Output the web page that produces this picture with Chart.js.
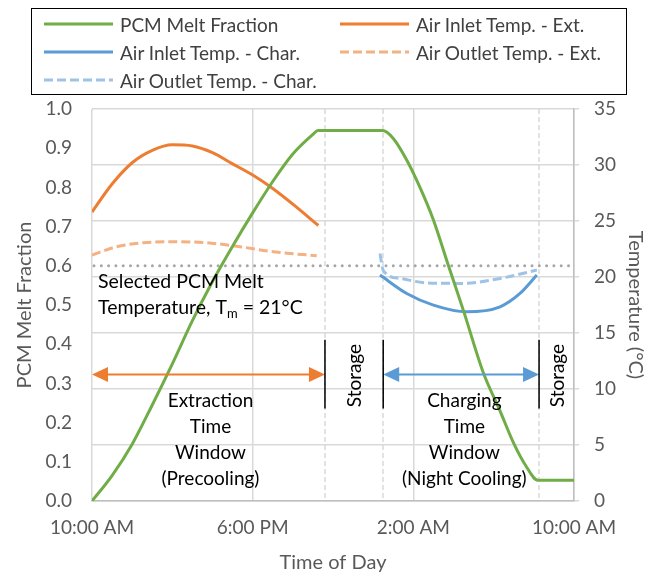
<!DOCTYPE html>
<html>
<head>
<meta charset="utf-8">
<script src="https://cdn.jsdelivr.net/npm/chart.js@4.4.1/dist/chart.umd.min.js"></script>
<style>
  body { margin: 0; background: #fff; }
  #wrap { position: relative; width: 660px; height: 575px; }
  #legend {
    position: absolute; left: 31px; top: 8px; width: 596px; height: 87px;
    border: 1.5px solid #000; box-sizing: border-box;
    font-family: Lato, sans-serif; font-size: 19px; color: #404040;
  }
  .item { position: absolute; display: flex; align-items: center; white-space: nowrap; height: 24px; }
  .item svg { margin-right: 7px; }
</style>
</head>
<body>
<div id="wrap">
  <canvas id="meltChart" width="660" height="575"></canvas>
  <div id="legend"></div>
</div>
<script>
// time axis runs in hours after 10:00 AM
const timeLabels = ['10:00 AM', '6:00 PM', '2:00 AM', '10:00 AM'];

const meltHours = [0, 1, 2, 3, 4, 5, 6, 7, 8, 9, 10, 11, 11.25, 14.46, 15, 15.67, 16.33, 17, 17.75, 18.5, 19.5, 20.3, 21, 21.6, 22.2, 24];
const meltFraction = [0, 0.065, 0.145, 0.245, 0.35, 0.46, 0.56, 0.65, 0.735, 0.815, 0.885, 0.935, 0.945, 0.945, 0.925, 0.87, 0.8, 0.717, 0.6, 0.485, 0.325, 0.232, 0.147, 0.09, 0.053, 0.053];

const extInletHours = [0, 1, 2, 3, 4, 5, 6, 7, 8, 9, 10, 11.27];
const extInletTemp = [25.8, 28.3, 30.2, 31.3, 31.8, 31.7, 31.1, 30.1, 29.1, 27.9, 26.5, 24.6];

const extOutletHours = [0, 1.23, 2.56, 4.05, 5.7, 7.37, 9.03, 11.19];
const extOutletTemp = [21.96, 22.7, 23.06, 23.15, 23.06, 22.7, 22.25, 21.9];

const charInletHours = [14.34, 15.67, 17, 18.66, 20.32, 21.31, 22.15];
const charInletTemp = [20.17, 18.53, 17.49, 16.89, 17.34, 18.53, 20.17];

const charOutletHours = [14.34, 14.5, 15.34, 16.67, 18.49, 20.32, 22.15];
const charOutletTemp = [22.1, 20.6, 19.87, 19.48, 19.43, 19.87, 20.62];

const meltTemp = 21;                     // selected PCM melt temperature, °C
const windowBounds = [11.6, 14.5, 22.26]; // end of extraction, start/end of charging

const pts = (xs, ys) => xs.map((x, i) => ({ x: x, y: ys[i] }));
const FONT = 'Lato, sans-serif';

const series = [
  { label: 'PCM Melt Fraction', data: pts(meltHours, meltFraction), color: '#70ad47', dash: [], axis: 'yFrac' },
  { label: 'Air Inlet Temp. - Ext.', data: pts(extInletHours, extInletTemp), color: '#ed7d31', dash: [], axis: 'yTemp' },
  { label: 'Air Inlet Temp. - Char.', data: pts(charInletHours, charInletTemp), color: '#5b9bd5', dash: [], axis: 'yTemp' },
  { label: 'Air Outlet Temp. - Ext.', data: pts(extOutletHours, extOutletTemp), color: '#f4b183', dash: [9, 4], axis: 'yTemp' },
  { label: 'Air Outlet Temp. - Char.', data: pts(charOutletHours, charOutletTemp), color: '#9dc3e6', dash: [9, 4], axis: 'yTemp' }
];

function line(ctx, x1, y1, x2, y2) {
  ctx.beginPath(); ctx.moveTo(x1, y1); ctx.lineTo(x2, y2); ctx.stroke();
}

function arrow(ctx, x1, x2, y, color) {
  const head = 16, half = 7.5;
  ctx.strokeStyle = color; ctx.fillStyle = color; ctx.lineWidth = 2;
  line(ctx, x1 + head - 2, y, x2 - head + 2, y);
  ctx.beginPath(); ctx.moveTo(x1, y); ctx.lineTo(x1 + head, y - half); ctx.lineTo(x1 + head, y + half); ctx.fill();
  ctx.beginPath(); ctx.moveTo(x2, y); ctx.lineTo(x2 - head, y - half); ctx.lineTo(x2 - head, y + half); ctx.fill();
}

const windowMarks = {
  id: 'windowMarks',
  beforeDatasetsDraw(chart) {
    const { ctx, chartArea: a, scales: { x, yTemp } } = chart;
    ctx.save();
    ctx.strokeStyle = '#d9d9d9'; ctx.lineWidth = 1.5; ctx.setLineDash([5, 3]);
    windowBounds.forEach(h => {
      const px = Math.round(x.getPixelForValue(h));
      line(ctx, px, a.top, px, a.bottom);
    });
    // melt temperature reference
    ctx.strokeStyle = '#a6a6a6'; ctx.lineWidth = 3; ctx.lineCap = 'round'; ctx.setLineDash([0, 7.3]);
    const py = yTemp.getPixelForValue(meltTemp);
    line(ctx, a.left + 2, py, a.right, py);
    ctx.restore();
  },
  afterDatasetsDraw(chart) {
    const { ctx, scales: { x, yTemp } } = chart;
    const X = h => x.getPixelForValue(h), Y = t => yTemp.getPixelForValue(t);
    ctx.save();

    // time window arrows and bars
    arrow(ctx, X(0), X(windowBounds[0]), Y(11.3), '#ed7d31');
    arrow(ctx, X(windowBounds[1]), X(windowBounds[2]), Y(11.3), '#5b9bd5');
    ctx.strokeStyle = '#000'; ctx.lineWidth = 1.5;
    windowBounds.forEach(h => line(ctx, X(h), Y(14.4), X(h), Y(8.25)));

    ctx.fillStyle = '#000';
    ctx.font = '19.5px ' + FONT;
    ctx.textBaseline = 'middle';

    // melt temperature note
    ctx.textAlign = 'left';
    const nx = X(0.3), ny = Y(19.6);
    ctx.fillText('Selected PCM Melt', nx, ny);
    const first = 'Temperature, T';
    ctx.fillText(first, nx, ny + 26);
    let cx = nx + ctx.measureText(first).width;
    ctx.font = '13px ' + FONT;
    ctx.fillText('m', cx, ny + 32);
    cx += ctx.measureText('m').width;
    ctx.font = '19.5px ' + FONT;
    ctx.fillText(' = 21°C', cx, ny + 26);

    // window captions
    ctx.font = '19px ' + FONT;
    ctx.textAlign = 'center';
    const block = (h, lines) => lines.forEach((s, i) => ctx.fillText(s, X(h), Y(8.9) + i * 26));
    block(5.9, ['Extraction', 'Time', 'Window', '(Precooling)']);
    block(18.54, ['Charging', 'Time', 'Window', '(Night Cooling)']);

    [13.1, 23.2].forEach(h => {
      ctx.save();
      ctx.translate(X(h), Y(11.2));
      ctx.rotate(-Math.PI / 2);
      ctx.fillText('Storage', 0, 0);
      ctx.restore();
    });
    ctx.restore();
  }
};

const tickFont = { family: FONT, size: 19 };
const titleFont = { family: FONT, size: 20 };

new Chart(document.getElementById('meltChart'), {
  type: 'line',
  data: {
    datasets: series.map(s => ({
      label: s.label,
      data: s.data,
      yAxisID: s.axis,
      borderColor: s.color,
      backgroundColor: s.color,
      borderDash: s.dash,
      borderWidth: 3,
      pointRadius: 0,
      fill: false,
      cubicInterpolationMode: 'monotone'
    }))
  },
  options: {
    responsive: false,
    animation: false,
    layout: { padding: { top: 109 } },
    plugins: { legend: { display: false }, tooltip: { enabled: false } },
    scales: {
      x: {
        type: 'linear', min: 0, max: 24,
        afterFit(s) { s.height = 74; },
        ticks: { stepSize: 8, padding: 15, color: '#595959', font: tickFont,
          callback: v => timeLabels[Math.round(v / 8)] },
        grid: { color: '#d9d9d9', lineWidth: 1.5, drawTicks: false },
        border: { color: '#bfbfbf', width: 1.5 },
        title: { display: true, text: 'Time of Day', color: '#595959', font: titleFont, padding: { top: 0, bottom: 0 } }
      },
      yFrac: {
        position: 'left', min: 0, max: 1,
        afterFit(s) { s.width = 92; },
        ticks: { stepSize: 0.1, padding: 20, color: '#595959', font: tickFont, callback: v => v.toFixed(1) },
        grid: { display: false, drawTicks: false },
        border: { display: false },
        title: { display: true, text: 'PCM Melt Fraction', color: '#595959', font: titleFont, padding: { top: 13, bottom: 0 } }
      },
      yTemp: {
        position: 'right', min: 0, max: 35,
        afterFit(s) { s.width = 86; },
        ticks: { stepSize: 5, padding: 15, color: '#595959', font: tickFont },
        grid: { color: '#d9d9d9', lineWidth: 1.5, tickLength: 5 },
        border: { color: '#bfbfbf', width: 1.5 },
        title: { display: true, text: 'Temperature (°C)', color: '#595959', font: titleFont, padding: { top: 13, bottom: 0 } }
      }
    }
  },
  plugins: [windowMarks]
});

// two-column legend box
const legendSlots = [[0, 0], [1, 0], [0, 1], [1, 1], [0, 2]];
const legendEl = document.getElementById('legend');
series.forEach((s, i) => {
  const [col, row] = legendSlots[i];
  const item = document.createElement('div');
  item.className = 'item';
  item.style.left = (col ? 308 : 12) + 'px';
  item.style.top = (3 + row * 28) + 'px';
  item.innerHTML = '<svg width="69" height="6"><line x1="0" y1="3" x2="69" y2="3" stroke="' + s.color +
    '" stroke-width="3" stroke-dasharray="' + (s.dash.length ? s.dash.join(' ') : 'none') + '"/></svg>';
  const label = document.createElement('span');
  label.textContent = s.label;
  item.appendChild(label);
  legendEl.appendChild(item);
});
</script>
</body>
</html>
